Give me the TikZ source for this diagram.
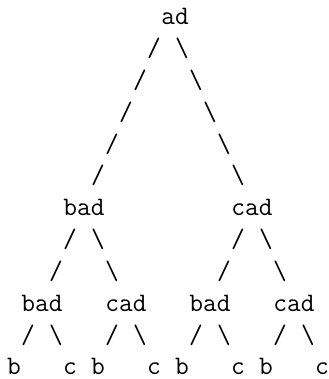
\documentclass[tikz,border=0pt]{standalone}
\begin{document}
\begin{tikzpicture}[x=0.5pt,y=-0.5pt,
  glyph/.style={anchor=base,inner sep=0pt,outer sep=0pt,font=\fontsize{13.33}{16}\selectfont\ttfamily},
  fwd/.style={glyph},
  bwd/.style={glyph}]
\useasboundingbox (0,0) rectangle (328,379);
% baselines of the twelve text rows
\def\rowy#1{25+31.8*#1}
% root
\node[glyph] (root) at (175,{\rowy{0}}) {ad};
% long branches from the root
\foreach \i/\xl/\xr in {1/154/182,2/140/196,3/126/210,4/112/224,5/98/238}{
  \node[fwd] (rl\i) at (\xl,{\rowy{\i}}) {/};
  \node[bwd] (rr\i) at (\xr,{\rowy{\i}}) {\textbackslash};
}
% second level
\node[glyph] (L) at (84,{\rowy{6}}) {bad};
\node[glyph] (R) at (252,{\rowy{6}}) {cad};
\foreach \n/\c in {L/84,R/252}{
  \node[fwd] (\n l1) at (\c-14,{\rowy{7}}) {/};
  \node[bwd] (\n r1) at (\c+14,{\rowy{7}}) {\textbackslash};
  \node[fwd] (\n l2) at (\c-28,{\rowy{8}}) {/};
  \node[bwd] (\n r2) at (\c+28,{\rowy{8}}) {\textbackslash};
}
% third level
\node[glyph] (LL) at (42,{\rowy{9}}) {bad};
\node[glyph] (LR) at (126,{\rowy{9}}) {cad};
\node[glyph] (RL) at (210,{\rowy{9}}) {bad};
\node[glyph] (RR) at (294,{\rowy{9}}) {cad};
\foreach \n/\c in {LL/42,LR/126,RL/210,RR/294}{
  \node[fwd] (\n l) at (\c-14,{\rowy{10}}) {/};
  \node[bwd] (\n r) at (\c+14,{\rowy{10}}) {\textbackslash};
  \node[glyph] (\n b) at (\c-28,{\rowy{11}}) {b};
  \node[glyph] (\n c) at (\c+28,{\rowy{11}}) {c};
}
\end{tikzpicture}
\end{document}
